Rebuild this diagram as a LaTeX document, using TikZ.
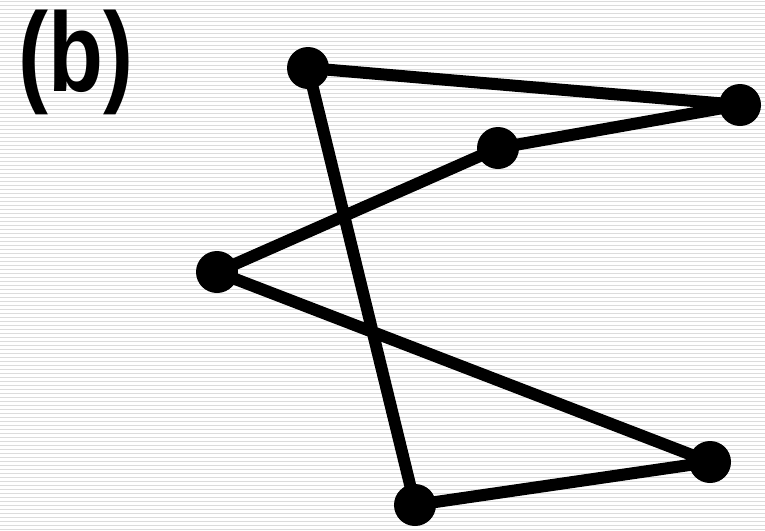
\documentclass[tikz,border=0pt]{standalone}
\usepackage{fontspec}
\setmainfont{Liberation Sans}
\definecolor{scanline}{HTML}{DCDCDC}
\tikzset{
  vertex/.style={circle, fill=black, draw=none, minimum size=1.26cm, inner sep=0pt},
  zigzag/.style={line width=0.36cm, line join=round, line cap=round},
  panel/.style={font=\fontsize{96}{96}\selectfont\bfseries, inner sep=0pt, xscale=0.8},
}

\begin{document}
\begin{tikzpicture}[x=0.03cm, y=-0.03cm]
    \useasboundingbox (0,0) rectangle (765,530);
    \fill[white] (0,0) rectangle (765,530);
    \foreach \i in {0,...,132}
      \draw[line width=0.5pt, scanline] (0,\i*4+1.5) -- (765,\i*4+1.5);
    \node[panel] (lbl) at (76,62) {(b)};
    \node[vertex] (p1) at (308,68) {};
    \node[vertex] (p2) at (740,105) {};
    \node[vertex] (p3) at (498,148) {};
    \node[vertex] (p4) at (217,272) {};
    \node[vertex] (p5) at (710,462) {};
    \node[vertex] (p6) at (415,505) {};
    \draw[zigzag] (p1.center) -- (p2.center) -- (p3.center) -- (p4.center)
      -- (p5.center) -- (p6.center) -- cycle;
  \end{tikzpicture}
\end{document}
